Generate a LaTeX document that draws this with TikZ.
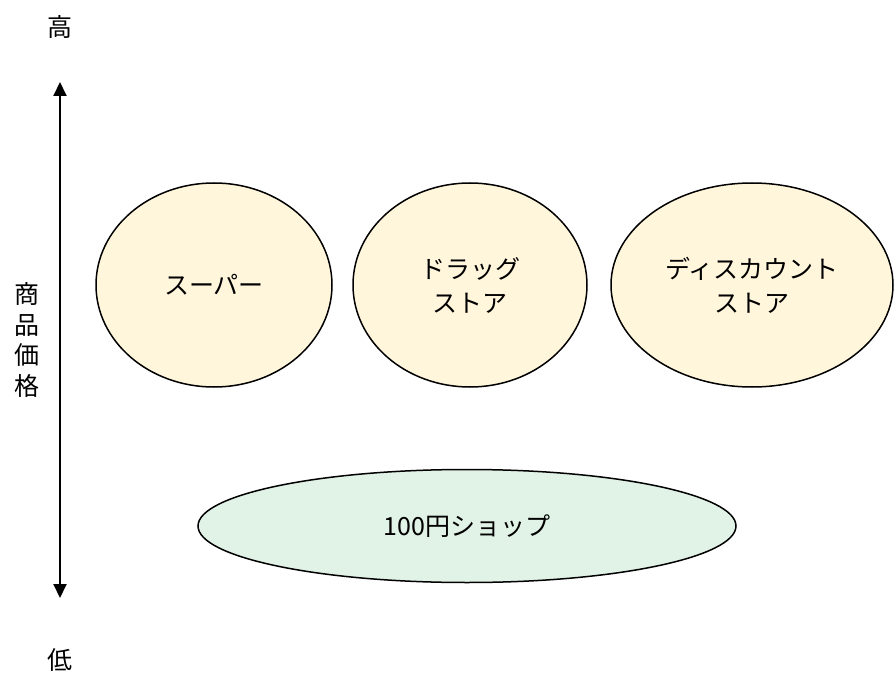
\documentclass[tikz,border=0pt]{standalone}
\usepackage{fontspec}
\setmainfont{Noto Sans CJK JP}
\usetikzlibrary{shapes.geometric,arrows.meta}
\definecolor{yel}{HTML}{FFF6DC}
\definecolor{grn}{HTML}{E1F2E6}
\begin{document}
\begin{tikzpicture}[x=1pt,y=-1pt,
  lbl/.style={font=\fontsize{25}{30.5}\selectfont, align=center, inner sep=0},
  shopell/.style={ellipse, draw=black, line width=1.5pt, inner sep=0, font=\fontsize{25}{34}\selectfont, align=center}]
\useasboundingbox (0,0) rectangle (895,674);
\node[lbl] (hi) at (60,27) {高};
\node[lbl] (lo) at (60,660) {低};
\coordinate (top) at (60,82);
\coordinate (bot) at (60,598);
\draw[line width=2pt, -{Triangle[length=14pt,width=13pt]}] (60,340) -- (top);
\draw[line width=2pt, -{Triangle[length=14pt,width=13pt]}] (60,340) -- (bot);
\node[lbl] (axis) at (27,340) {商\\品\\価\\格};
\node[shopell, fill=yel, minimum width=236pt, minimum height=204pt] (super) at (214,285) {スーパー};
\node[shopell, fill=yel, minimum width=234pt, minimum height=204pt] (drug) at (470,285) {ドラッグ\\ストア};
\node[shopell, fill=yel, minimum width=282pt, minimum height=204pt] (disc) at (752,285) {ディスカウント\\ストア};
\node[shopell, fill=grn, minimum width=538pt, minimum height=113pt] (yen) at (467,526) {100円ショップ};
\end{tikzpicture}
\end{document}
